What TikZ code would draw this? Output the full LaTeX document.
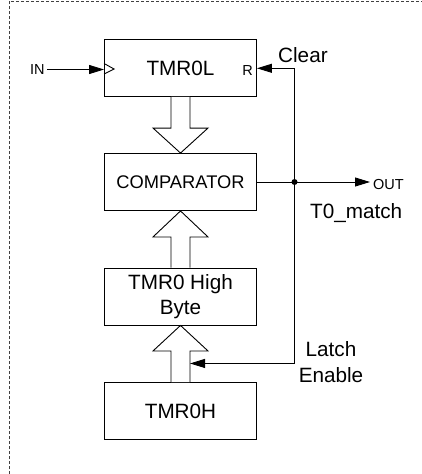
\documentclass[tikz,border=0pt]{standalone}
\usepackage{fontspec}
\setmainfont{Liberation Sans}
\usetikzlibrary{arrows.meta,calc}
\begin{document}
\begin{tikzpicture}[x=1pt,y=-1pt,
 blk/.style={draw,line width=0.9pt,minimum width=152pt,minimum height=57pt,inner sep=0pt,font=\fontsize{20.7}{25}\selectfont,align=center},
 lbl/.style={inner sep=0pt,font=\fontsize{20.7}{25}\selectfont},
 sml/.style={inner sep=0pt,font=\fontsize{14.5}{17}\selectfont},
 wire/.style={line width=0.9pt},
 arr/.style={wire,-{Triangle[length=15pt,width=9pt]}},
 hollow/.style={line width=0.9pt,fill=white,line join=miter},
 frame/.style={line width=0.8pt,black!75,dash pattern=on 3pt off 2pt}]
\useasboundingbox (0,0) rectangle (422,474);
\draw[frame] (9,474) -- (9,1) -- (422,1);

\node[blk] (tl) at (180.5,68) {TMR0L};
\node[blk,font=\fontsize{18.3}{22}\selectfont] (cmp) at (180.5,182) {COMPARATOR};
\node[blk] (hb) at (180.5,296.5) {TMR0 High\\Byte};
\node[blk] (th) at (180.5,411) {TMR0H};

% clock input
\node[sml,anchor=west] (in) at (30,69.5) {IN};
\draw[arr] ([xshift=2pt]in.east) -- (in.east -| tl.west);
\draw[wire] ($(tl.west)+(0,-4.5)$) -- ($(tl.west)+(10,1)$) -- ($(tl.west)+(0,6)$);
\node[sml,anchor=east] (r) at ($(tl.east)+(-4,2.5)$) {R};

% hollow bus arrows
\draw[hollow] ($(tl.south)+(-9.5,0)$) -- ($(cmp.north)+(-9.5,-25)$) -- ($(cmp.north)+(-27.5,-25)$) -- (cmp.north) -- ($(cmp.north)+(27.5,-25)$) -- ($(cmp.north)+(9.5,-25)$) -- ($(tl.south)+(9.5,0)$);
\draw[hollow] ($(hb.north)+(-9.5,0)$) -- ($(cmp.south)+(-9.5,26)$) -- ($(cmp.south)+(-27.5,26)$) -- (cmp.south) -- ($(cmp.south)+(27.5,26)$) -- ($(cmp.south)+(9.5,26)$) -- ($(hb.north)+(9.5,0)$);
\draw[hollow] ($(th.north)+(-9.5,0)$) -- ($(hb.south)+(-9.5,25.5)$) -- ($(hb.south)+(-27.5,25.5)$) -- (hb.south) -- ($(hb.south)+(27.5,25.5)$) -- ($(hb.south)+(9.5,25.5)$) -- ($(th.north)+(9.5,0)$);
\coordinate (a3r) at ($(hb.south)+(9.5,38)$);

% clear / latch feedback
\coordinate (cc) at (294.5,68.3);
\coordinate (lc) at (cc |- a3r);
\coordinate (jn) at (cmp.east -| cc);
\draw[arr] (cc) -- (cc -| tl.east);
\draw[wire] (cc) -- (lc);
\draw[arr] (lc) -- (a3r);

% output
\node[sml,anchor=base west] (out) at (373,189) {OUT};
\draw[wire] (cmp.east) -- (jn);
\draw[arr,shorten >=3pt] (jn) -- (jn -| out.west);
\fill (jn) circle (3);

% labels
\node[lbl,anchor=base west] (clr) at (278,62) {Clear};
\node[lbl,anchor=base west] (tm) at (310,218) {T0\_match};
\node[lbl,anchor=base] (la) at (331,356) {Latch};
\node[lbl,anchor=base] (en) at (331,382) {Enable};
\end{tikzpicture}
\end{document}
